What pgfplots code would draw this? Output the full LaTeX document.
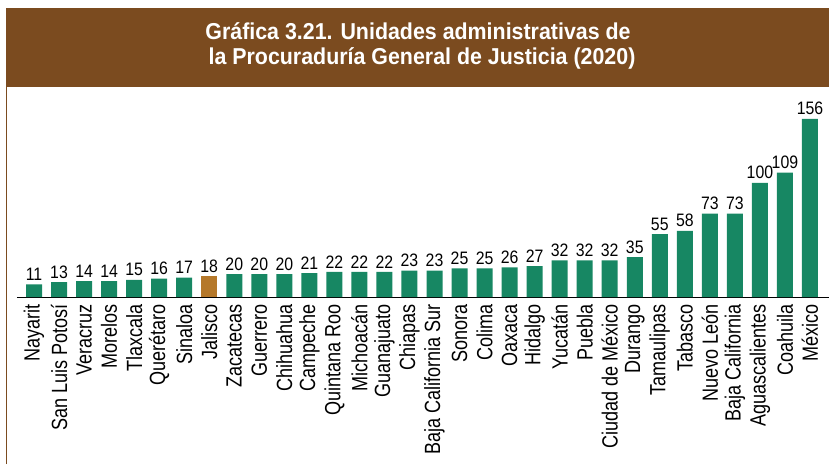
\documentclass[border=0pt]{standalone}
\usepackage{pgfplots}
\pgfplotsset{compat=1.18}
\usepackage{fontspec}
\setmainfont{Liberation Sans}
\newfontfamily\titlefont{Liberation Sans}[FakeStretch=0.93]
\newfontfamily\lblfont{Liberation Sans}[FakeStretch=0.82]
\newfontfamily\valfont{Liberation Sans}[FakeStretch=0.88]
\definecolor{hdr}{RGB}{123,75,31}
\definecolor{bargreen}{RGB}{23,135,99}
\definecolor{bargold}{RGB}{181,120,42}
\begin{document}
\begin{tikzpicture}
\useasboundingbox (0,0) rectangle (829pt,464pt);
\fill[hdr] (6pt,456pt) rectangle (829pt,377pt);
\draw[hdr, line width=1.2pt] (6.6pt,0) -- (6.6pt,456pt);
\node[anchor=base, text=white, inner sep=0pt] at (418pt,424.5pt) {\titlefont\bfseries\fontsize{23}{23}\selectfont Gráfica 3.21. Unidades administrativas de};
\node[anchor=base, text=white, inner sep=0pt] at (422pt,399pt) {\titlefont\bfseries\fontsize{23}{23}\selectfont la Procuraduría General de Justicia (2020)};
\begin{axis}[
  at={(17pt,167pt)}, anchor=south west,
  scale only axis, width=812pt, height=209pt,
  xmin=-0.68, xmax=31.76, ymin=0, ymax=183,
  axis x line=bottom, axis y line=none,
  x axis line style={-, black, line width=0.8pt},
  ybar, bar width=16pt, bar shift=0pt,
  xtick={0,...,31},
  xticklabels={Nayarit,San Luis Potosí,Veracruz,Morelos,Tlaxcala,Querétaro,Sinaloa,Jalisco,Zacatecas,Guerrero,Chihuahua,Campeche,Quintana Roo,Michoacán,Guanajuato,Chiapas,Baja California Sur,Sonora,Colima,Oaxaca,Hidalgo,Yucatán,Puebla,Ciudad de México,Durango,Tamaulipas,Tabasco,Nuevo León,Baja California,Aguascalientes,Coahuila,México},
  xticklabel style={rotate=90, anchor=east, font=\lblfont\fontsize{22}{22}\selectfont, inner sep=0pt, xshift=-7pt},
  major tick length=0pt,
  ytick=\empty,
  /pgf/number format/assume math mode=true,
  nodes near coords,
  every node near coord/.append style={font=\valfont\fontsize{18}{18}\selectfont, text=black, inner sep=3.5pt},
  clip=false,
]
\addplot[fill=bargreen, draw=none] coordinates {
(0,11) (1,13) (2,14) (3,14) (4,15) (5,16) (6,17)
(8,20) (9,20) (10,20) (11,21) (12,22) (13,22) (14,22) (15,23) (16,23)
(17,25) (18,25) (19,26) (20,27) (21,32) (22,32) (23,32) (24,35)
(25,55) (26,58) (27,73) (28,73) (29,100) (30,109) (31,156)
};
\addplot[fill=bargold, draw=none] coordinates {(7,18)};
\end{axis}
\end{tikzpicture}
\end{document}
